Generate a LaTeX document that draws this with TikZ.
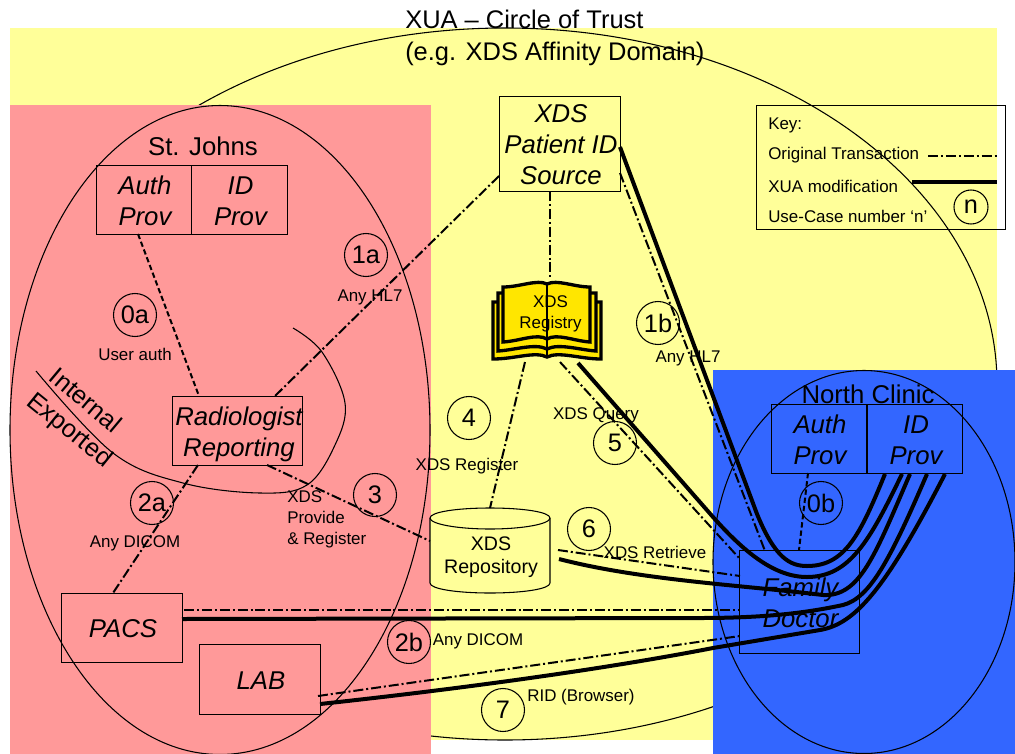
\documentclass[tikz,border=0pt]{standalone}
\usepackage{fontspec}
\setmainfont{Liberation Sans}
\usetikzlibrary{shapes.geometric}
\definecolor{bgyellow}{HTML}{FFFF99}
\definecolor{bgred}{HTML}{FF9999}
\definecolor{bgblue}{HTML}{3366FF}
\definecolor{bookyellow}{HTML}{FFE600}
\def\u{0.75pt}
\newcommand{\tx}[1]{\hspace*{2.2pt}\raisebox{-3pt}[\height][\depth]{\begin{tabular}{@{}c@{}}#1\end{tabular}}}
\tikzset{
  x=0.75pt,y=-0.75pt,
  zone/.style={fill=#1,draw=none},
  thinline/.style={line width=0.8pt,draw=black},
  bigoval/.style={ellipse,draw=black,line width=0.8pt,inner sep=0pt,text=black},
  actor/.style={rectangle,draw=black,line width=0.7pt,inner sep=0pt,font=\fontsize{19.3}{23.2}\selectfont\itshape},
  num/.style={circle,draw=black,line width=0.8pt,inner sep=0pt,minimum size=43*\u,font=\fontsize{19}{20}\selectfont},
  small/.style={inner sep=0pt,align=left,font=\fontsize{12.7}{16}\selectfont},
  site/.style={inner sep=0pt,font=\fontsize{19.3}{20}\selectfont},
  orig/.style={line width=1.5pt,dash pattern=on 7.5pt off 2.2pt on 1.5pt off 2.2pt},
  authline/.style={line width=1.5pt,dash pattern=on 4pt off 2.2pt},
  xua/.style={line width=3pt,line join=round},
  pagebook/.style={fill=bookyellow,draw=black,line width=2.5pt,line join=miter},
}
\begin{document}
\begin{tikzpicture}
\useasboundingbox (0,0) rectangle (1015,754);
% background zones
\fill[zone=bgyellow] (10,28) rectangle (997,740);
\node[bigoval,minimum width=984*\u,minimum height=712*\u] (trust) at (505,384) {};
\fill[zone=bgred] (10,105) rectangle (431,754);
\fill[zone=bgblue] (713,370) rectangle (1015,754);
\node[bigoval,minimum width=420*\u,minimum height=649*\u] (stjohnsoval) at (220,430) {};
\node[bigoval,minimum width=302*\u,minimum height=383*\u] (northoval) at (864,562) {};
% title and site names
\node[inner sep=0pt,align=left,anchor=west,font=\fontsize{19.1}{24}\selectfont] (title) at (405,38) {XUA – Circle of Trust\\(e.g. XDS Affinity Domain)};
\node[site] (stjohns) at (203,146) {St. Johns};
\node[site] (north) at (868,394) {North Clinic};
% actors
\node[actor,minimum width=95*\u,minimum height=69*\u] (authA) at (143.5,199.5) {\tx{Auth\\Prov}};
\node[actor,minimum width=96*\u,minimum height=69*\u] (idA) at (239,199.5) {\tx{ID\\Prov}};
\node[actor,minimum width=121*\u,minimum height=95*\u] (pid) at (559.5,143.5) {\tx{XDS\\Patient ID\\Source}};
\node[actor,minimum width=129*\u,minimum height=69*\u] (rad) at (237.5,430.5) {\tx{Radiologist\\Reporting}};
\node[actor,minimum width=121*\u,minimum height=69*\u] (pacs) at (121.5,627.5) {\tx{PACS}};
\node[actor,minimum width=121*\u,minimum height=70*\u] (lab) at (259.5,679) {\tx{LAB}};
\node[actor,minimum width=120*\u,minimum height=103*\u] (family) at (799,601.5) {\tx{Family\\Doctor}};
\node[actor,minimum width=95*\u,minimum height=69*\u] (authB) at (818.5,438.5) {\tx{Auth\\Prov}};
\node[actor,minimum width=95*\u,minimum height=69*\u] (idB) at (914.5,438.5) {\tx{ID\\Prov}};
% repository
\filldraw[fill=bgyellow,thinline] (430,518) .. controls (430,512) and (457,508) .. (490,508) .. controls (523,508) and (550,512) .. (550,518) -- (550,583) .. controls (550,589) and (523,593) .. (490,593) .. controls (457,593) and (430,589) .. (430,583) -- cycle;
\draw[thinline] (430,518) .. controls (430,524) and (457,529) .. (490,529) .. controls (523,529) and (550,524) .. (550,518);
\node[inner sep=0pt,align=center,font=\fontsize{14.7}{17.3}\selectfont] (repo) at (491,557) {XDS\\Repository};
% registry book
\filldraw[pagebook] (493,302) -- (493,359) .. controls (515,359) and (535,351) .. (547,357) .. controls (559,351) and (580,359) .. (601,359) -- (601,302) -- cycle;
\filldraw[pagebook] (498,293) -- (498,351) .. controls (515,350) and (535,343) .. (547,349) .. controls (559,343) and (580,350) .. (596,351) -- (596,293) -- cycle;
\filldraw[pagebook] (503,287) -- (503,342) .. controls (520,341) and (537,333) .. (547,339) .. controls (557,333) and (574,341) .. (590,342) -- (590,287) .. controls (574,287) and (557,279) .. (547,284) .. controls (537,279) and (520,287) .. (503,287) -- cycle;
\draw[line width=1pt] (547,284) -- (547,357);
\node[inner sep=0pt,align=center,font=\fontsize{12.7}{15.5}\selectfont] (registry) at (550.5,314) {XDS\\Registry};
% ports
\coordinate (pidW) at (499,176); \coordinate (radN) at (275,396);
\coordinate (pidS) at (550,191); \coordinate (regN) at (550,278);
\coordinate (authAS) at (138,234); \coordinate (radNW) at (199,396);
\coordinate (radSW) at (198,465); \coordinate (pacsN) at (113,593);
\coordinate (radS) at (267,465); \coordinate (repoW) at (430,541);
\coordinate (regS) at (525,362); \coordinate (repoN) at (490,508);
\coordinate (regSE) at (560,362); \coordinate (famNW) at (740,559);
\coordinate (pidE) at (620,173); \coordinate (famN) at (765,551);
\coordinate (authBS) at (808,473); \coordinate (famNb) at (799,550);
\coordinate (repoE) at (558,550); \coordinate (famW) at (740,576);
\coordinate (pacsE) at (184,610); \coordinate (famWb) at (739,610);
\coordinate (labE) at (318,696); \coordinate (famWc) at (740,636);
\coordinate (keyA) at (928,156); \coordinate (keyB) at (997,156);
\coordinate (keyC) at (912,182); \coordinate (keyD) at (997,182);
% original transactions
\draw[orig] (pidW) -- (radN);
\draw[orig] (pidS) -- (regN);
\draw[orig] (radSW) -- (pacsN);
\draw[orig] (radS) -- (repoW);
\draw[orig] (regS) -- (repoN);
\draw[orig] (regSE) -- (famNW);
\draw[orig] (pidE) -- (famN);
\draw[orig] (repoE) -- (famW);
\draw[orig] (pacsE) -- (famWb);
\draw[orig] (labE) -- (famWc);
\draw[authline] (authAS) -- (radNW);
\draw[authline] (authBS) -- (famNb);
% XUA modifications
\coordinate (pidEb) at (620,147); \coordinate (regSEb) at (578,363);
\coordinate (repoEb) at (559,559); \coordinate (pacsEb) at (182,619);
\coordinate (labEb) at (320,704);
\coordinate (idBa) at (885,474); \coordinate (idBb) at (902,474);
\coordinate (idBc) at (910,474); \coordinate (idBd) at (927,474);
\coordinate (idBe) at (945,474);
\draw[xua] (pidEb) -- (757,514) .. controls (775,558) and (790,566) .. (807,566) .. controls (845,566) and (860,535) .. (idBa);
\draw[xua] (regSEb) -- (713,517) .. controls (745,553) and (775,577) .. (807,577) .. controls (850,577) and (870,540) .. (idBb);
\draw[xua] (repoEb) .. controls (640,580) and (740,585) .. (823,595) .. controls (860,597) and (875,555) .. (idBc);
\draw[xua] (pacsEb) -- (700,618) .. controls (770,618) and (810,612) .. (843,605) .. controls (870,598) and (890,560) .. (idBd);
\draw[xua] (labEb) .. controls (450,690) and (600,670) .. (713,648) -- (820,630) .. controls (855,624) and (885,590) .. (idBe);
% internal / exported divider
\draw[thinline] plot[smooth,tension=0.6] coordinates {(36,371) (113,453) (183,483) (260,493) (307,485) (335,445) (345,403) (322,352) (293,328)};
\node[inner sep=0pt,rotate=-40,font=\fontsize{19}{20}\selectfont] (internal) at (86,400) {Internal};
\node[inner sep=0pt,rotate=-39,font=\fontsize{19}{20}\selectfont] (exported) at (69,431) {Exported};
% use case numbers
\node[num] (n1a) at (366,255) {1a};
\node[num] (n0a) at (135,315) {0a};
\node[num] (n2a) at (152,503) {2a};
\node[num] (n3) at (375,495) {3};
\node[num] (n4) at (469,418) {4};
\node[num] (n5) at (615,443) {5};
\node[num] (n6) at (589,529) {6};
\node[num] (n1b) at (658,323) {1b};
\node[num] (n0b) at (821,503) {0b};
\node[num] (n2b) at (409,642) {2b};
\node[num] (n7) at (503,710) {7};
% labels
\node[small] (l1a) at (370,297) {Any HL7};
\node[small] (l0a) at (135,354) {User auth};
\node[small,anchor=north west] (l3) at (287,490) {XDS\\Provide\\\& Register};
\node[small] (l2a) at (135,543) {Any DICOM};
\node[small] (l4) at (467,466) {XDS Register};
\node[small] (l5) at (596,415) {XDS Query};
\node[small] (l1b) at (688,358) {Any HL7};
\node[small] (l6) at (655,552) {XDS Retrieve};
\node[small] (l2b) at (478,641) {Any DICOM};
\node[small] (l7) at (581,697) {RID (Browser)};
% key
\node[rectangle,draw=black,line width=0.7pt,minimum width=249*\u,minimum height=124*\u,inner sep=0pt] (key) at (880.5,167) {};
\node[small,anchor=west] (k1) at (768,125) {Key:};
\node[small,anchor=west] (k2) at (768,155) {Original Transaction};
\node[small,anchor=west] (k3) at (768,186) {XUA modification};
\node[small,anchor=west] (k4) at (768,216) {Use-Case number ‘n’};
\draw[orig] (keyA) -- (keyB);
\draw[xua] (keyC) -- (keyD);
\node[num,minimum size=34*\u] (kn) at (971,207) {n};
\end{tikzpicture}
\end{document}
